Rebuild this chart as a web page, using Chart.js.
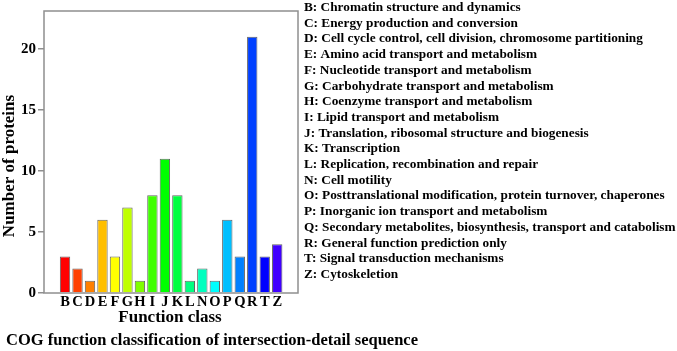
<!DOCTYPE html>
<html>
<head>
<meta charset="utf-8">
<script src="https://cdn.jsdelivr.net/npm/chart.js@4.4.1/dist/chart.umd.min.js"></script>
<style>
  html, body { margin: 0; padding: 0; background: #fff; }
</style>
</head>
<body>
<canvas id="cog-chart" width="677" height="351"></canvas>
<script>
const classes = ["B", "C", "D", "E", "F", "G", "H", "I", "J", "K", "L", "N", "O", "P", "Q", "R", "T", "Z"],
  proteins = [3, 2, 1, 6, 3, 7, 1, 8, 11, 8, 1, 2, 1, 6, 3, 21, 3, 4],
  yTicks = [0, 5, 10, 15, 20],
  descriptions = [
    "B: Chromatin structure and dynamics",
    "C: Energy production and conversion",
    "D: Cell cycle control, cell division, chromosome partitioning",
    "E: Amino acid transport and metabolism",
    "F: Nucleotide transport and metabolism",
    "G: Carbohydrate transport and metabolism",
    "H: Coenzyme transport and metabolism",
    "I: Lipid transport and metabolism",
    "J: Translation, ribosomal structure and biogenesis",
    "K: Transcription",
    "L: Replication, recombination and repair",
    "N: Cell motility",
    "O: Posttranslational modification, protein turnover, chaperones",
    "P: Inorganic ion transport and metabolism",
    "Q: Secondary metabolites, biosynthesis, transport and catabolism",
    "R: General function prediction only",
    "T: Signal transduction mechanisms",
    "Z: Cytoskeletion",
  ];

const barColors = [
  "#ff0000", "#ff4000", "#ff8000", "#ffbf00", "#ffff00", "#bfff00",
  "#80ff00", "#40ff00", "#00ff00", "#00ff40", "#00ff80", "#00ffbf",
  "#00ffff", "#00bfff", "#0080ff", "#0040ff", "#0000ff", "#4000ff",
];

const serif = "'Liberation Serif', 'Times New Roman', serif";

// frame round the plot plus the free texts (axis titles, key, caption)
const decorations = {
  id: "decorations",
  afterDraw(chart) {
    const { ctx, chartArea: a } = chart;
    ctx.save();
    ctx.strokeStyle = "#8f8f8f";
    ctx.lineWidth = 1.5;
    ctx.strokeRect(a.left, a.top, a.right - a.left, a.bottom - a.top);

    ctx.fillStyle = "#000";
    ctx.font = `bold 17px ${serif}`;
    ctx.textAlign = "center";
    ctx.textBaseline = "middle";
    ctx.save();
    ctx.translate(10, 166);
    ctx.rotate(-Math.PI / 2);
    ctx.fillText("Number of proteins", 0, 0);
    ctx.restore();

    ctx.textBaseline = "alphabetic";
    ctx.fillText("Function class", 170, 322);

    ctx.textAlign = "left";
    ctx.font = `bold 16.5px ${serif}`;
    ctx.fillText("COG function classification of intersection-detail sequence", 6, 345);

    ctx.font = `bold 13.3px ${serif}`;
    descriptions.forEach((d, i) => ctx.fillText(d, 304, 11 + i * 15.7));
    ctx.restore();
  },
};

new Chart(document.getElementById("cog-chart"), {
  type: "bar",
  data: {
    datasets: [
      {
        data: proteins.map((v, i) => ({ x: i, y: v })),
        backgroundColor: barColors,
        borderColor: "rgba(60,60,60,0.8)",
        borderWidth: 1,
        barPercentage: 0.83,
        categoryPercentage: 1,
      },
    ],
  },
  options: {
    responsive: false,
    animation: false,
    devicePixelRatio: 1,
    layout: { padding: { left: 0, top: 3, right: 379, bottom: 0 } },
    plugins: { legend: { display: false }, tooltip: { enabled: false } },
    scales: {
      x: {
        type: "linear",
        min: -1.12,
        max: 18.1,
        afterBuildTicks: (s) => (s.ticks = classes.map((c, i) => ({ value: i }))),
        afterFit: (s) => (s.height = 58),
        ticks: {
          autoSkip: false,
          maxRotation: 0,
          padding: 1,
          color: "#000",
          font: { family: serif, size: 14.5, weight: "bold" },
          callback: (v) => classes[v],
        },
        grid: { display: false, drawTicks: false },
        border: { display: false },
      },
      y: {
        min: 0,
        max: 23.1,
        afterBuildTicks: (s) => (s.ticks = yTicks.map((v) => ({ value: v }))),
        afterFit: (s) => (s.width = 44),
        ticks: {
          padding: 2,
          color: "#000",
          font: { family: serif, size: 15, weight: "bold" },
        },
        grid: { drawOnChartArea: false, tickLength: 6, color: "#8f8f8f", lineWidth: 1.5 },
        border: { display: false },
      },
    },
  },
  plugins: [decorations],
});
</script>
</body>
</html>
